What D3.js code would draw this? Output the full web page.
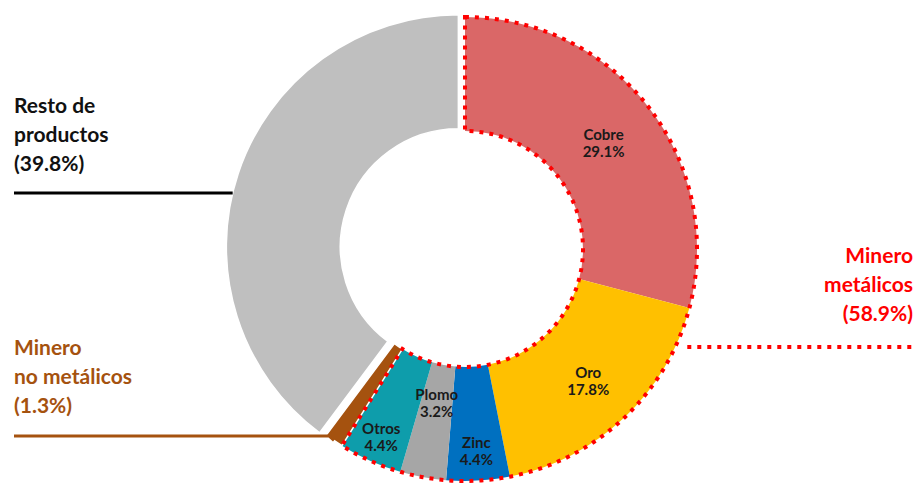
<!DOCTYPE html>
<html>
<head>
<meta charset="utf-8">
<script src="https://cdn.jsdelivr.net/npm/d3@7"></script>
<style>
  body { margin: 0; background: #fff; }
  text { font-family: Lato, "Open Sans", sans-serif; font-weight: bold; }
</style>
</head>
<body>
<div id="chart"></div>
<script>
// Data
const categorias = ['Cobre', 'Oro', 'Zinc', 'Plomo', 'Otros', 'Minero no metálicos', 'Resto de productos'];
const valores = [29.1, 17.8, 4.4, 3.2, 4.4, 1.3, 39.8];
const grupos = ['met', 'met', 'met', 'met', 'met', 'nomet', 'resto'];
const gruposLabels = {
  met: ['Minero', 'metálicos', '(58.9%)'],
  nomet: ['Minero', 'no metálicos', '(1.3%)'],
  resto: ['Resto de', 'productos', '(39.8%)'],
};

// Layout
const width = 917, height = 483;
const cx = 465, cy = 249;
const outerR = 232, innerR = 118;
const colors = {
  'Cobre': '#DA6767', 'Oro': '#FFC000', 'Zinc': '#0070C0', 'Plomo': '#A6A6A6',
  'Otros': '#0E9DAB', 'Minero no metálicos': '#A5520F', 'Resto de productos': '#BFBFBF',
};
const labelR = { 'Cobre': 175, 'Oro': 180, 'Zinc': 201, 'Plomo': 156, 'Otros': 205 };
const explode = { 'Resto de productos': 7 };

const data = categorias.map((c, i) => ({ name: c, value: valores[i], group: grupos[i] }));

const svg = d3.select('#chart')
  .append('svg')
  .attr('width', width)
  .attr('height', height);

const g = svg.append('g')
  .attr('transform', 'translate(' + cx + ',' + cy + ')');

const pie = d3.pie().sort(null).value(d => d.value);
const arcs = pie(data);
const arc = d3.arc().innerRadius(innerR).outerRadius(outerR);

const offset = d => {
  const k = explode[d.data.name] || 0;
  return d3.pointRadial((d.startAngle + d.endAngle) / 2, k);
};

// slices
g.selectAll('path.slice')
  .data(arcs)
  .enter()
  .append('path')
  .attr('class', 'slice')
  .attr('transform', d => 'translate(' + offset(d) + ')')
  .attr('fill', d => colors[d.data.name])
  .attr('stroke', d => d.data.group === 'met' ? 'none' : '#fff')
  .attr('stroke-width', 1.5)
  .attr('d', arc);

// dotted outline around metal group
const met = arcs.filter(d => d.data.group === 'met');
g.append('path')
  .attr('fill', 'none')
  .attr('stroke', '#FF0000')
  .attr('stroke-width', 4)
  .attr('stroke-dasharray', '4,6')
  .attr('d', arc({ startAngle: met[0].startAngle, endAngle: met[met.length - 1].endAngle }));

// inner labels
met.forEach(d => {
  const [x, y] = d3.pointRadial((d.startAngle + d.endAngle) / 2, labelR[d.data.name]);
  const t = g.append('text')
    .attr('text-anchor', 'middle')
    .attr('font-size', 15)
    .attr('fill', '#1a1a1a');
  t.append('tspan').attr('x', x).attr('y', y - 2).text(d.data.name);
  t.append('tspan').attr('x', x).attr('y', y + 15).text(d3.format('.1f')(d.data.value) + '%');
});

// group labels
function groupLabel(lines, x, y0, anchor, color) {
  const t = svg.append('text')
    .attr('text-anchor', anchor)
    .attr('font-size', 21)
    .attr('fill', color);
  lines.forEach((l, i) => t.append('tspan').attr('x', x).attr('y', y0 + i * 29).text(l));
}
groupLabel(gruposLabels.resto, 14, 113, 'start', '#111');
groupLabel(gruposLabels.nomet, 14, 355, 'start', colors['Minero no metálicos']);
groupLabel(gruposLabels.met, 913, 263, 'end', '#FF0000');

// leader lines
const resto = arcs.find(d => d.data.group === 'resto');
const ro = offset(resto);
const yResto = 193;
const xResto = cx + ro[0] - Math.sqrt(outerR * outerR - Math.pow(yResto - cy - ro[1], 2));
svg.append('line')
  .attr('x1', 14).attr('x2', xResto)
  .attr('y1', yResto).attr('y2', yResto)
  .attr('stroke', '#000').attr('stroke-width', 3);

const nomet = arcs.find(d => d.data.group === 'nomet');
const np = d3.pointRadial((nomet.startAngle + nomet.endAngle) / 2, outerR);
svg.append('polyline')
  .attr('fill', 'none')
  .attr('stroke', colors['Minero no metálicos'])
  .attr('stroke-width', 3)
  .attr('points', [[14, 436], [cx + np[0] - 5, 436], [cx + np[0], cy + np[1]]].join(' '));

const yMet = 347;
const xMet = cx + Math.sqrt(outerR * outerR - Math.pow(yMet - cy, 2)) + 12;
svg.append('line')
  .attr('x1', xMet).attr('x2', width)
  .attr('y1', yMet).attr('y2', yMet)
  .attr('stroke', '#FF0000').attr('stroke-width', 4)
  .attr('stroke-dasharray', '4,6');
</script>
</body>
</html>
